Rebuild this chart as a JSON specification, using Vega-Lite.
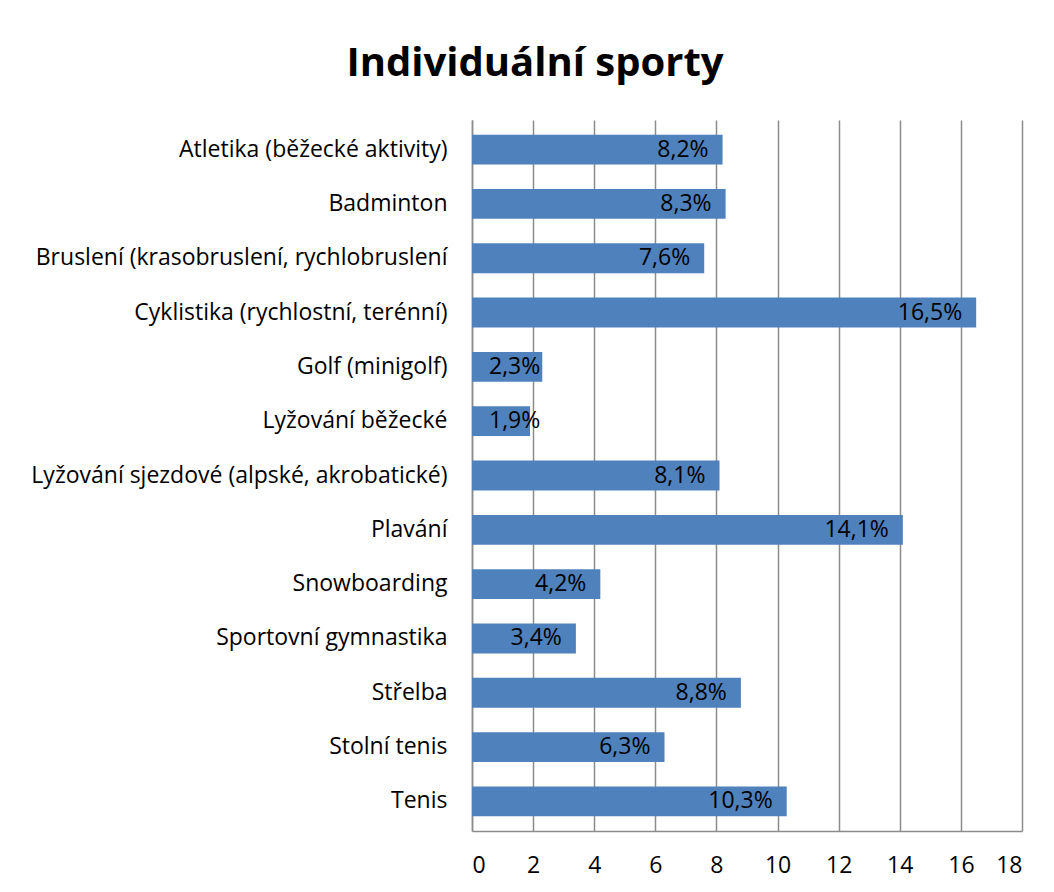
{
  "$schema": "https://vega.github.io/schema/vega-lite/v6.json",
  "autosize": {"type": "none"},
  "width": 550,
  "height": 711,
  "padding": {"left": 472, "top": 120, "right": 32, "bottom": 61},
  "background": "white",
  "title": {
    "text": "Individuální sporty",
    "font": "Open Sans",
    "fontSize": 40,
    "fontWeight": "bold",
    "color": "black",
    "anchor": "middle",
    "frame": "group",
    "dx": -212,
    "offset": 36
  },
  "data": {
    "values": [
      {"sport": "Atletika (běžecké aktivity)", "value": 8.2, "label": "8,2%"},
      {"sport": "Badminton", "value": 8.3, "label": "8,3%"},
      {"sport": "Bruslení (krasobruslení, rychlobruslení", "value": 7.6, "label": "7,6%"},
      {"sport": "Cyklistika (rychlostní, terénní)", "value": 16.5, "label": "16,5%"},
      {"sport": "Golf (minigolf)", "value": 2.3, "label": "2,3%"},
      {"sport": "Lyžování běžecké", "value": 1.9, "label": "1,9%"},
      {"sport": "Lyžování sjezdové (alpské, akrobatické)", "value": 8.1, "label": "8,1%"},
      {"sport": "Plavání", "value": 14.1, "label": "14,1%"},
      {"sport": "Snowboarding", "value": 4.2, "label": "4,2%"},
      {"sport": "Sportovní gymnastika", "value": 3.4, "label": "3,4%"},
      {"sport": "Střelba", "value": 8.8, "label": "8,8%"},
      {"sport": "Stolní tenis", "value": 6.3, "label": "6,3%"},
      {"sport": "Tenis ", "value": 10.3, "label": "10,3%"}
    ]
  },
  "encoding": {
    "y": {
      "field": "sport",
      "type": "nominal",
      "sort": null,
      "scale": {"paddingInner": 0.45, "paddingOuter": 0.27},
      "axis": {
        "title": null,
        "ticks": false,
        "labelFont": "Open Sans",
        "labelFontSize": 23,
        "labelColor": "black",
        "labelPadding": 25,
        "labelLimit": 500,
        "domainColor": "#8c8c8c",
        "domainWidth": 1.5,
        "grid": false
      }
    }
  },
  "layer": [
    {
      "mark": {"type": "bar", "color": "#4F81BD"},
      "encoding": {
        "x": {
          "field": "value",
          "type": "quantitative",
          "scale": {"domain": [0, 18], "nice": false},
          "axis": {
            "title": null,
            "values": [0, 2, 4, 6, 8, 10, 12, 14, 16, 18],
            "ticks": false,
            "labelFont": "Open Sans",
            "labelFontSize": 23,
            "labelColor": "black",
            "labelPadding": 23,
            "domainColor": "#8c8c8c",
            "domainWidth": 1.5,
            "grid": true,
            "gridColor": "#8c8c8c",
            "gridWidth": 1.5
          }
        }
      }
    },
    {
      "transform": [{"filter": "datum.value >= 3"}],
      "mark": {"type": "text", "align": "right", "baseline": "middle", "dx": -14, "font": "Open Sans", "fontSize": 23, "color": "black"},
      "encoding": {
        "x": {"field": "value", "type": "quantitative"},
        "text": {"field": "label"}
      }
    },
    {
      "transform": [{"filter": "datum.value < 3"}],
      "mark": {"type": "text", "align": "left", "baseline": "middle", "dx": 17, "font": "Open Sans", "fontSize": 23, "color": "black"},
      "encoding": {
        "x": {"datum": 0, "type": "quantitative"},
        "text": {"field": "label"}
      }
    }
  ],
  "config": {"view": {"stroke": null}}
}
